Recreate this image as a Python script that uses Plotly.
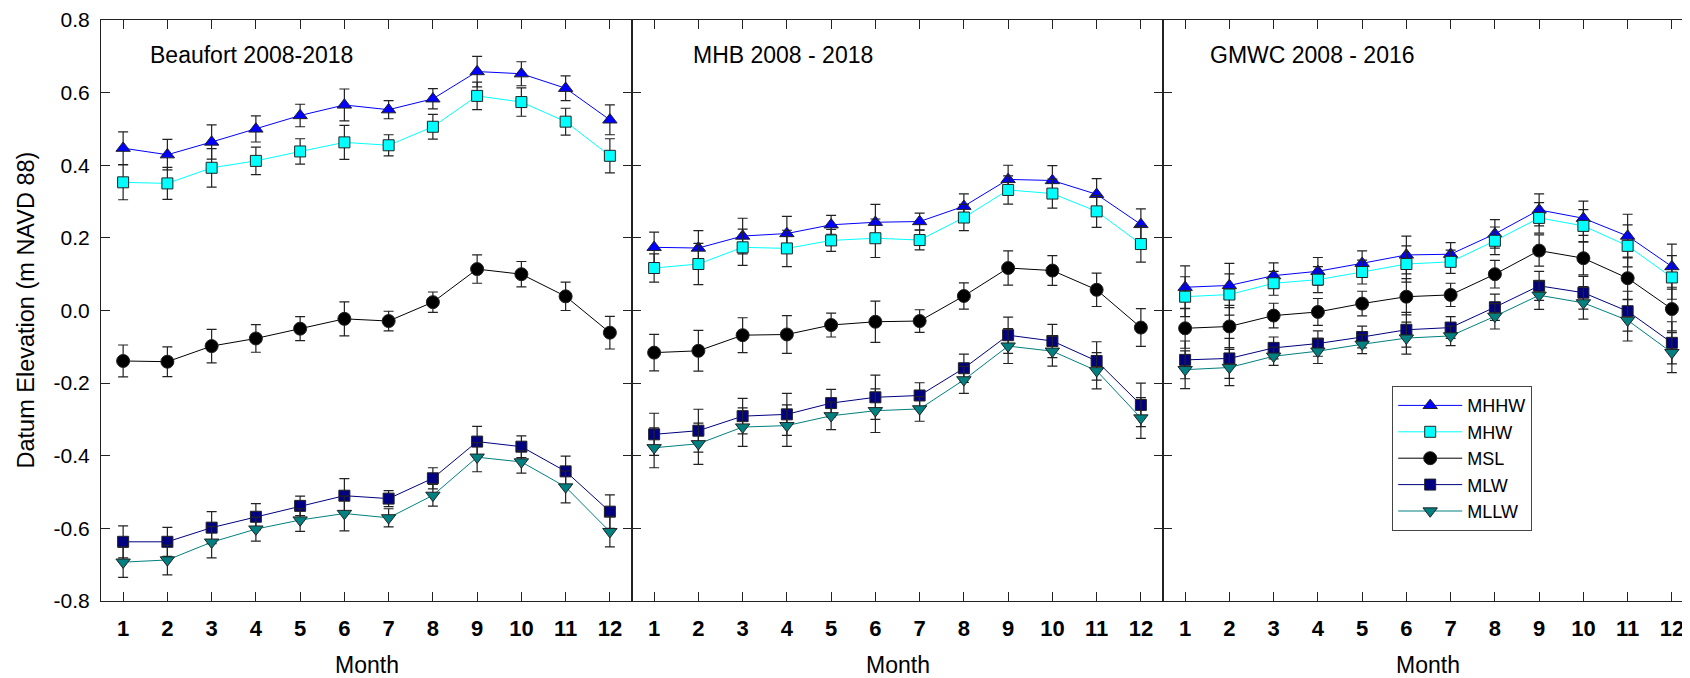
import plotly.graph_objects as go

months = list(range(1, 13))
series_names = ["MHHW", "MHW", "MSL", "MLW", "MLLW"]
panel_titles = ["Beaufort 2008-2018", "MHB 2008 - 2018", "GMWC 2008 - 2016"]
y_tick_vals = [-0.8, -0.6, -0.4, -0.2, 0.0, 0.2, 0.4, 0.6, 0.8]
y_tick_text = ["-0.8", "-0.6", "-0.4", "-0.2", "0.0", "0.2", "0.4", "0.6", "0.8"]

# Beaufort 2008-2018
beaufort_mhhw = [0.447, 0.429, 0.464, 0.500, 0.537, 0.566, 0.553, 0.583, 0.658, 0.652, 0.612, 0.525]
beaufort_mhhw_err = [0.045, 0.042, 0.047, 0.036, 0.031, 0.044, 0.025, 0.028, 0.042, 0.033, 0.034, 0.041]
beaufort_mhw = [0.353, 0.350, 0.393, 0.412, 0.438, 0.463, 0.455, 0.506, 0.591, 0.574, 0.520, 0.426]
beaufort_mhw_err = [0.048, 0.044, 0.053, 0.038, 0.035, 0.047, 0.029, 0.034, 0.038, 0.039, 0.037, 0.047]
beaufort_msl = [-0.139, -0.141, -0.098, -0.077, -0.050, -0.023, -0.029, 0.023, 0.114, 0.100, 0.039, -0.061]
beaufort_msl_err = [0.044, 0.041, 0.046, 0.038, 0.033, 0.047, 0.027, 0.028, 0.039, 0.035, 0.039, 0.045]
beaufort_mlw = [-0.637, -0.637, -0.598, -0.568, -0.538, -0.510, -0.518, -0.462, -0.361, -0.375, -0.443, -0.554]
beaufort_mlw_err = [0.044, 0.040, 0.044, 0.036, 0.027, 0.047, 0.022, 0.029, 0.042, 0.030, 0.042, 0.046]
beaufort_mllw = [-0.693, -0.687, -0.638, -0.602, -0.577, -0.559, -0.571, -0.509, -0.404, -0.417, -0.486, -0.609]
beaufort_mllw_err = [0.042, 0.041, 0.043, 0.033, 0.031, 0.048, 0.025, 0.030, 0.040, 0.031, 0.044, 0.042]

# MHB 2008-2018
mhb_mhhw = [0.174, 0.172, 0.205, 0.212, 0.236, 0.243, 0.245, 0.287, 0.361, 0.358, 0.320, 0.237]
mhb_mhhw_err = [0.042, 0.048, 0.049, 0.047, 0.026, 0.049, 0.023, 0.034, 0.039, 0.041, 0.043, 0.043]
mhb_mhw = [0.117, 0.128, 0.174, 0.171, 0.193, 0.199, 0.194, 0.256, 0.332, 0.322, 0.273, 0.183]
mhb_mhw_err = [0.039, 0.057, 0.050, 0.050, 0.030, 0.053, 0.027, 0.036, 0.039, 0.040, 0.044, 0.050]
mhb_msl = [-0.116, -0.111, -0.068, -0.066, -0.040, -0.031, -0.029, 0.040, 0.117, 0.110, 0.057, -0.047]
mhb_msl_err = [0.050, 0.056, 0.048, 0.052, 0.033, 0.057, 0.031, 0.036, 0.047, 0.041, 0.046, 0.052]
mhb_mlw = [-0.341, -0.331, -0.291, -0.286, -0.255, -0.239, -0.234, -0.159, -0.068, -0.084, -0.139, -0.260]
mhb_mlw_err = [0.058, 0.059, 0.049, 0.058, 0.038, 0.061, 0.035, 0.039, 0.050, 0.046, 0.053, 0.060]
mhb_mllw = [-0.378, -0.367, -0.321, -0.317, -0.290, -0.276, -0.271, -0.191, -0.098, -0.112, -0.166, -0.296]
mhb_mllw_err = [0.055, 0.057, 0.053, 0.057, 0.038, 0.060, 0.034, 0.037, 0.048, 0.041, 0.050, 0.056]

# GMWC 2008-2016
gmwc_mhhw = [0.064, 0.069, 0.096, 0.108, 0.130, 0.153, 0.155, 0.211, 0.277, 0.254, 0.205, 0.121]
gmwc_mhhw_err = [0.059, 0.061, 0.035, 0.038, 0.034, 0.052, 0.032, 0.039, 0.044, 0.047, 0.060, 0.062]
gmwc_mhw = [0.038, 0.044, 0.075, 0.085, 0.106, 0.128, 0.134, 0.192, 0.255, 0.233, 0.178, 0.091]
gmwc_mhw_err = [0.055, 0.057, 0.033, 0.036, 0.033, 0.050, 0.032, 0.038, 0.042, 0.045, 0.058, 0.060]
gmwc_msl = [-0.049, -0.044, -0.014, -0.004, 0.019, 0.038, 0.043, 0.100, 0.165, 0.144, 0.089, 0.004]
gmwc_msl_err = [0.055, 0.058, 0.034, 0.037, 0.034, 0.050, 0.032, 0.038, 0.043, 0.046, 0.058, 0.060]
gmwc_mlw = [-0.136, -0.132, -0.103, -0.091, -0.073, -0.053, -0.047, 0.009, 0.068, 0.049, -0.002, -0.089]
gmwc_mlw_err = [0.052, 0.055, 0.030, 0.035, 0.030, 0.048, 0.030, 0.036, 0.040, 0.045, 0.055, 0.058]
gmwc_mllw = [-0.163, -0.157, -0.126, -0.112, -0.093, -0.076, -0.070, -0.016, 0.042, 0.021, -0.027, -0.116]
gmwc_mllw_err = [0.052, 0.050, 0.025, 0.034, 0.026, 0.044, 0.027, 0.035, 0.039, 0.045, 0.057, 0.055]

panels = [
    [(beaufort_mhhw, beaufort_mhhw_err), (beaufort_mhw, beaufort_mhw_err), (beaufort_msl, beaufort_msl_err),
     (beaufort_mlw, beaufort_mlw_err), (beaufort_mllw, beaufort_mllw_err)],
    [(mhb_mhhw, mhb_mhhw_err), (mhb_mhw, mhb_mhw_err), (mhb_msl, mhb_msl_err),
     (mhb_mlw, mhb_mlw_err), (mhb_mllw, mhb_mllw_err)],
    [(gmwc_mhhw, gmwc_mhhw_err), (gmwc_mhw, gmwc_mhw_err), (gmwc_msl, gmwc_msl_err),
     (gmwc_mlw, gmwc_mlw_err), (gmwc_mllw, gmwc_mllw_err)],
]

styles = {
    "MHHW": dict(color="#0000FF", symbol="triangle-up", size=12.5),
    "MHW": dict(color="#00FFFF", symbol="square", size=11),
    "MSL": dict(color="#000000", symbol="circle", size=13),
    "MLW": dict(color="#000080", symbol="square", size=11),
    "MLLW": dict(color="#008080", symbol="triangle-down", size=12.5),
}

FONT = "Liberation Sans, Arial, sans-serif"
W, H = 1690, 678
# the page body adds an 8px offset, so margins are reduced by it
L, R, T = 93, 4, 12
PLOT_H = 581
B = H - T - PLOT_H
plot_w = W - L - R
domains = [[0, 1 / 3], [1 / 3, 2 / 3], [2 / 3, 1.0]]
x_range = [0.5, 12.5]

def px_to_paper_y(py):  # py: page pixel
    return (T + 8 + PLOT_H - py) / PLOT_H

def px_to_paper_x(px):
    return (px - 8 - L) / plot_w

fig = go.Figure()
for p, pdata in enumerate(panels):
    ax = "" if p == 0 else str(p + 1)
    for name, (vals, errs) in zip(series_names, pdata):
        st = styles[name]
        fig.add_trace(go.Scatter(
            x=months, y=vals, name=name,
            mode="lines+markers",
            xaxis="x" + ax, yaxis="y" + ax,
            showlegend=(p == 2),
            line=dict(color=st["color"], width=1),
            marker=dict(symbol=st["symbol"], size=st["size"], color=st["color"],
                        line=dict(color="#222222", width=1)),
            error_y=dict(type="data", array=errs, visible=True, color="#222222",
                         thickness=1.2, width=5),
        ))

axis_common = dict(showline=True, linecolor="#222222", linewidth=1.1, mirror="ticks",
                   ticks="inside", ticklen=9, tickwidth=1.2, tickcolor="#222222",
                   showgrid=False, zeroline=False, ticklabeloverflow="allow",
                   automargin=False)

layout = dict(
    width=W, height=H,
    margin=dict(l=L, r=R, t=T, b=B, autoexpand=False),
    paper_bgcolor="white", plot_bgcolor="white",
    font=dict(family=FONT, color="black", size=21),
    showlegend=True,
    legend=dict(x=px_to_paper_x(1392), y=px_to_paper_y(386), xanchor="left", yanchor="top",
                bordercolor="#444444", borderwidth=1.2, bgcolor="white",
                font=dict(family=FONT, size=18, color="black"), itemwidth=64,
                tracegroupgap=0),
)
for p in range(3):
    ax = "" if p == 0 else str(p + 1)
    layout["xaxis" + ax] = dict(
        axis_common, domain=domains[p], range=x_range, anchor="y" + ax,
        tickvals=months, ticktext=[str(m) for m in months],
        tickfont=dict(family=FONT, size=22, color="black", weight="bold"),
        ticklabelstandoff=8,
    )
    layout["yaxis" + ax] = dict(
        axis_common, domain=[0, 1], range=[-0.8, 0.8], anchor="x" + ax,
        tickvals=y_tick_vals, ticktext=y_tick_text, showticklabels=(p == 0),
        tickfont=dict(family=FONT, size=21, color="black"),
        ticklabelstandoff=6,
    )

annotations = []
title_x = [1.558, 1.842, 1.528]
for p in range(3):
    ax = "" if p == 0 else str(p + 1)
    annotations.append(dict(text=panel_titles[p], x=title_x[p], y=0.703, xref="x" + ax, yref="y" + ax,
                            xanchor="left", yanchor="middle", showarrow=False,
                            font=dict(family=FONT, size=23, color="black")))
    annotations.append(dict(text="Month", x=sum(domains[p]) / 2,
                            y=px_to_paper_y(665), xref="paper", yref="paper",
                            xanchor="center", yanchor="middle", showarrow=False,
                            font=dict(family=FONT, size=23, color="black")))
annotations.append(dict(text="Datum Elevation (m NAVD 88)", x=px_to_paper_x(25), y=0.5,
                        xref="paper", yref="paper", textangle=-90, xanchor="center", yanchor="middle",
                        showarrow=False, font=dict(family=FONT, size=23.5, color="black")))
layout["annotations"] = annotations

fig.update_layout(layout)
fig.write_html("out.html")
